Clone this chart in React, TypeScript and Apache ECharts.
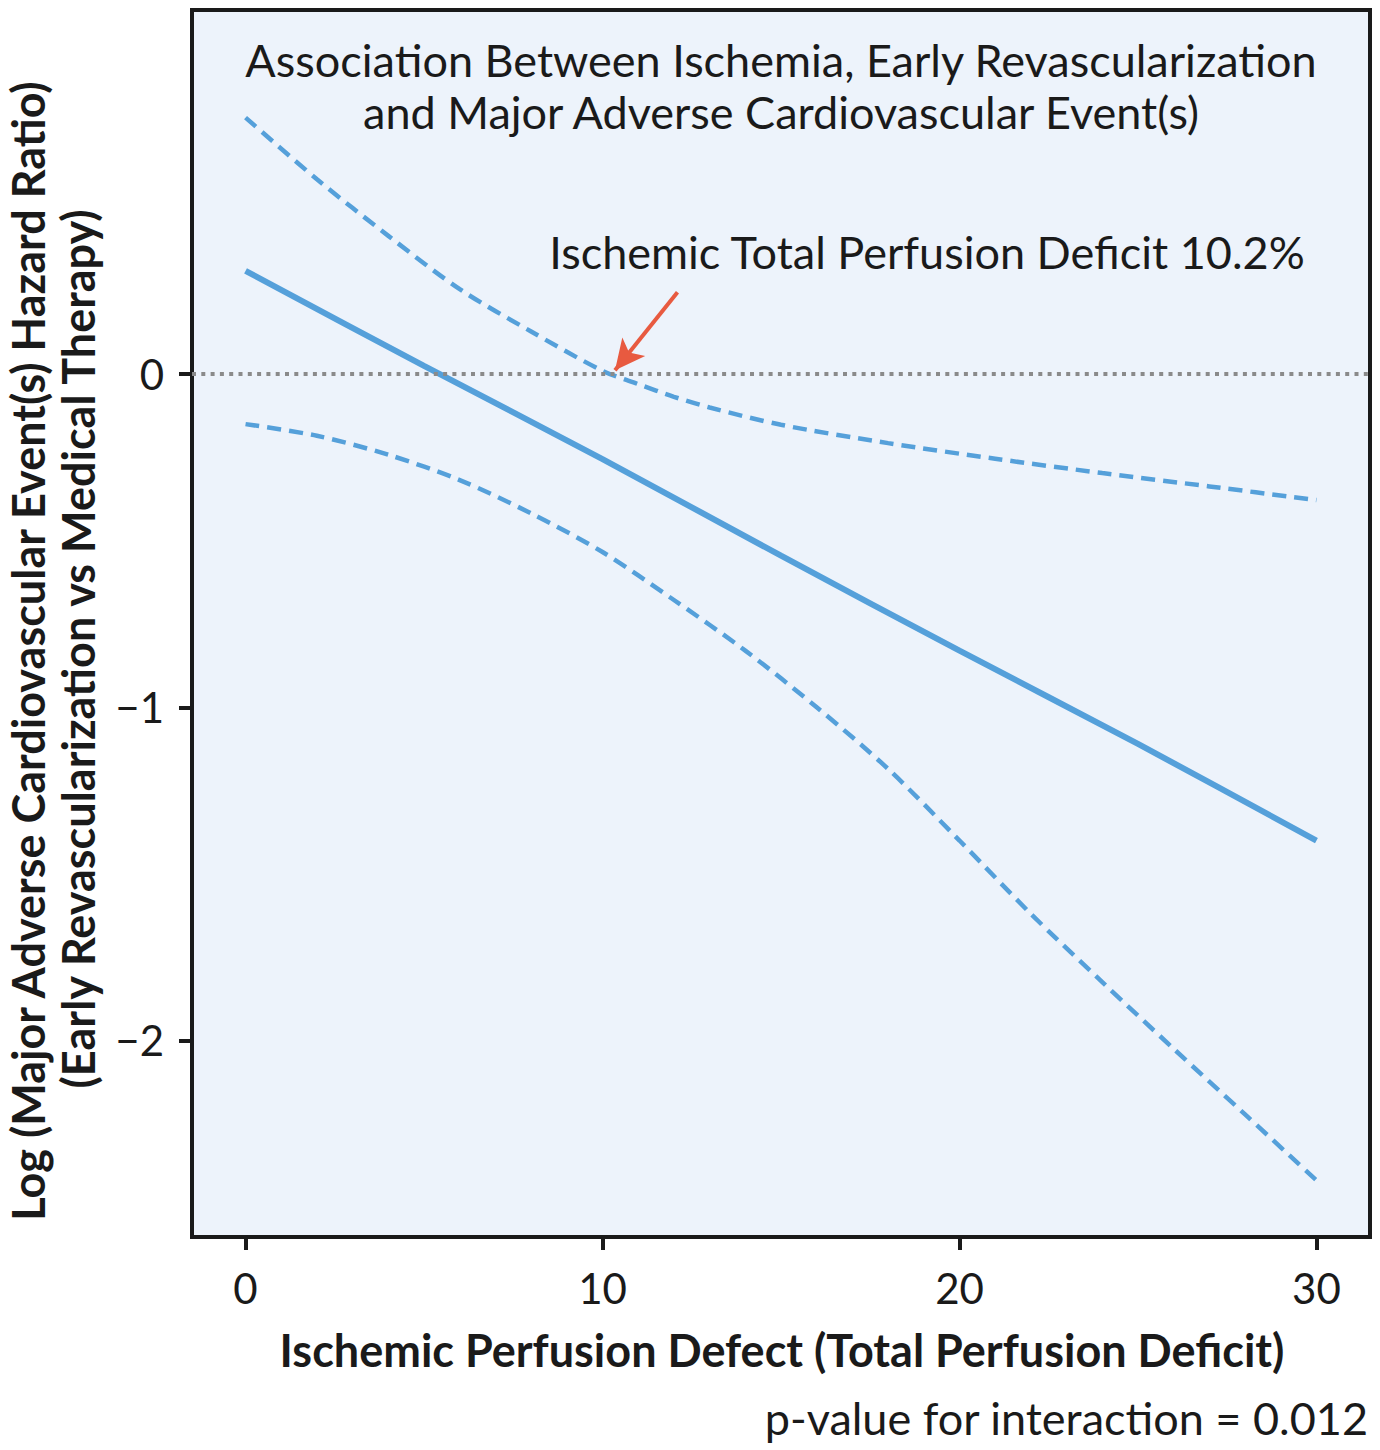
import React, { useEffect, useRef } from "react";
import * as echarts from "echarts";

const xTicks = [0, 10, 20, 30];
const yTicks = [-2, -1, 0];

const estX = [0, 5, 10, 15, 20, 25, 30];
const estY = [0.31, 0.025, -0.255, -0.545, -0.83, -1.11, -1.4];

const upperX = [0, 2, 4, 6, 8, 10, 11, 12, 13, 15, 18, 21, 24, 27, 30];
const upperY = [0.77, 0.585, 0.415, 0.255, 0.128, 0.01, -0.03, -0.068, -0.1, -0.152, -0.207, -0.254, -0.297, -0.337, -0.378];

const lowerX = [0, 2, 4, 6, 8, 10, 12, 14, 16, 18, 20, 22, 24, 26, 28, 30];
const lowerY = [-0.15, -0.185, -0.242, -0.318, -0.418, -0.534, -0.678, -0.83, -1.0, -1.185, -1.4, -1.62, -1.825, -2.025, -2.222, -2.42];

const arrowFrom = [12.1, 0.246];
const arrowTo = [10.35, 0.012];

const titleLines = [
  "Association Between Ischemia, Early Revascularization",
  "and Major Adverse Cardiovascular Event(s)",
];
const annotation = "Ischemic Total Perfusion Deficit 10.2%";
const xName = "Ischemic Perfusion Defect (Total Perfusion Deficit)";
const yNameLines = [
  "Log (Major Adverse Cardiovascular Event(s) Hazard Ratio)",
  "(Early Revascularization vs Medical Therapy)",
];
const pValue = "p-value for interaction = 0.012";

const FONT = "Lato";
const BLUE = "#55a0da";
const INK = "#1a1a1a";

const zip = (xs: number[], ys: number[]) => xs.map((x, i) => [x, ys[i]]);

const txt = (x: number, y: number, text: string, extra: any = {}, styleExtra: any = {}) => ({
  type: "text",
  x,
  y,
  ...extra,
  style: {
    text,
    fontFamily: FONT,
    fontSize: 45,
    fill: INK,
    textAlign: "center",
    textVerticalAlign: "middle",
    ...styleExtra,
  },
});

export default function App() {
  const ref = useRef<HTMLDivElement>(null);
  useEffect(() => {
    document.body.style.margin = "0";
    const chart = echarts.init(ref.current!, null, { renderer: "svg" });
    chart.setOption({
      animation: false,
      backgroundColor: "#ffffff",
      grid: {
        left: 192,
        right: 10,
        top: 10,
        bottom: 213,
        show: true,
        backgroundColor: "#edf3fb",
        borderColor: INK,
        borderWidth: 4,
      },
      xAxis: {
        type: "value",
        min: -1.5,
        max: 31.5,
        splitLine: { show: false },
        axisLine: { show: false, onZero: false },
        axisTick: {
          show: true,
          customValues: xTicks,
          length: 13,
          lineStyle: { color: INK, width: 4 },
        },
        axisLabel: {
          customValues: xTicks,
          margin: 30,
          fontFamily: FONT,
          fontSize: 42,
          color: INK,
        },
      },
      yAxis: {
        type: "value",
        min: -2.59,
        max: 1.093,
        splitLine: { show: false },
        axisLine: { show: false, onZero: false },
        axisTick: {
          show: true,
          customValues: yTicks,
          length: 13,
          lineStyle: { color: INK, width: 4 },
        },
        axisLabel: {
          customValues: yTicks,
          margin: 28,
          fontFamily: FONT,
          fontSize: 42,
          color: INK,
          formatter: (v: number) => (v < 0 ? "\u2212" + Math.abs(v) : String(v)),
        },
      },
      series: [
        {
          type: "line",
          data: [],
          silent: true,
          markLine: {
            silent: true,
            symbol: ["none", "none"],
            label: { show: false },
            lineStyle: { color: "#8a8a8a", width: 4, type: [4, 5.3] },
            data: [{ yAxis: 0 }],
          },
        },
        {
          name: "upper",
          type: "line",
          data: zip(upperX, upperY),
          showSymbol: false,
          smooth: 0.3,
          lineStyle: { color: BLUE, width: 4.5, type: [14, 8] },
        },
        {
          name: "lower",
          type: "line",
          data: zip(lowerX, lowerY),
          showSymbol: false,
          smooth: 0.3,
          lineStyle: { color: BLUE, width: 4.5, type: [14, 8] },
        },
        {
          name: "estimate",
          type: "line",
          data: zip(estX, estY),
          showSymbol: false,
          smooth: 0.3,
          lineStyle: { color: BLUE, width: 6 },
          markLine: {
            silent: true,
            symbol: ["none", "arrow"],
            symbolSize: [22, 30],
            label: { show: false },
            lineStyle: { color: "#e85a40", width: 4, type: "solid" },
            data: [[{ coord: arrowFrom }, { coord: arrowTo }]],
          },
        },
      ],
      graphic: [
        txt(781, 60, titleLines[0]),
        txt(781, 112, titleLines[1]),
        txt(927, 252, annotation),
        txt(782, 1350, xName, {}, { fontWeight: "bold" }),
        txt(1368, 1418, pValue, {}, { textAlign: "right" }),
        txt(28, 651, yNameLines[0], { rotation: Math.PI / 2 }, { fontWeight: "bold" }),
        txt(78, 649, yNameLines[1], { rotation: Math.PI / 2 }, { fontWeight: "bold" }),
      ],
    });
    return () => chart.dispose();
  }, []);
  return <div ref={ref} style={{ width: 1380, height: 1450 }} />;
}
